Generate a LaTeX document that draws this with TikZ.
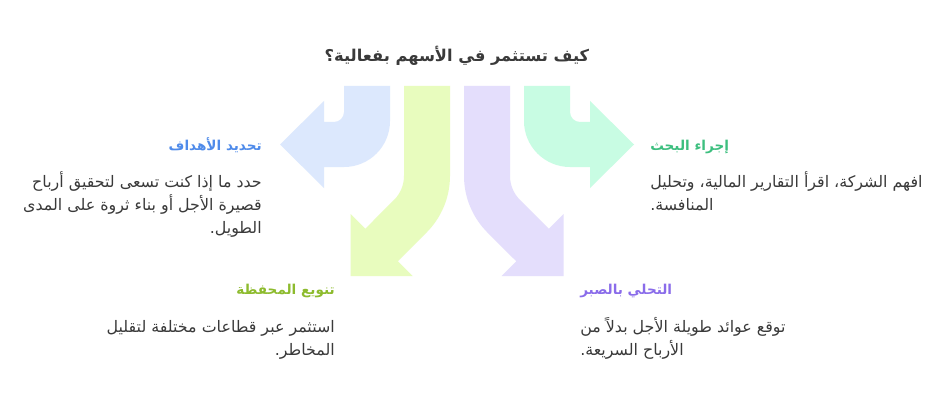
\documentclass[tikz,border=0pt]{standalone}
\usepackage{fontspec}
\newfontfamily\arabicfont[Script=Arabic]{DejaVu Sans}
\TeXXeTstate=1
\definecolor{arBlue}{HTML}{DCE8FD}
\definecolor{arLime}{HTML}{E8FCBE}
\definecolor{arPurple}{HTML}{E4DEFC}
\definecolor{arMint}{HTML}{C8FCE3}
\definecolor{hdBlue}{HTML}{4F8BEA}
\definecolor{hdLime}{HTML}{8DBB2E}
\definecolor{hdPurple}{HTML}{8A6CEA}
\definecolor{hdMint}{HTML}{3DBF7F}
\definecolor{txtGray}{HTML}{3A3A3A}
\begin{document}
\begin{tikzpicture}[x=0.75pt,y=-0.75pt,
  titletext/.style={inner sep=0pt,font=\arabicfont\bfseries\fontsize{12.2pt}{15pt}\selectfont,text=txtGray},
  headtext/.style={inner sep=0pt,font=\arabicfont\bfseries\fontsize{10.2pt}{12pt}\selectfont},
  bodytext/.style={inner sep=0pt,font=\arabicfont\fontsize{11.9pt}{14pt}\selectfont,text=txtGray}]
\useasboundingbox (0,0) rectangle (950,410);
\fill[white] (0,0) rectangle (950,410);

% arrows
\fill[arBlue] (344,86) -- (344,112) arc[start angle=0,end angle=90,radius=10] -- (324,122) -- (324,101) -- (280,144.5) -- (324,188) -- (324,167) -- (344,167) arc[start angle=90,end angle=0,radius=46] -- (390,86) -- cycle;
\fill[arMint] (570,86) -- (570,112) arc[start angle=180,end angle=90,radius=10] -- (590,122) -- (590,101) -- (634,144.5) -- (590,188) -- (590,167) -- (570,167) arc[start angle=90,end angle=180,radius=46] -- (524,86) -- cycle;
\fill[arLime] (404,86) -- (404,175.9) arc[start angle=0,end angle=45,radius=34] -- (365.25,228.75) -- (350.5,214) -- (350.5,276) -- (412.5,276) -- (397.75,261.25) -- (426.57,232.47) arc[start angle=45,end angle=0,radius=80] -- (450,86) -- cycle;
\fill[arPurple] (510,86) -- (510,175.9) arc[start angle=180,end angle=135,radius=34] -- (548.75,228.75) -- (563.5,214) -- (563.5,276) -- (501.5,276) -- (516.25,261.25) -- (487.43,232.47) arc[start angle=135,end angle=180,radius=80] -- (464,86) -- cycle;

% title
\node[titletext] (title) at (457,56) {\beginR كيف تستثمر في الأسهم بفعالية؟\endR};

% goals
\node[headtext,text=hdBlue,anchor=mid east] (goalsHead) at (262,148) {\beginR تحديد الأهداف\endR};
\node[bodytext,anchor=mid east] (goalsA) at (262,185) {\beginR حدد ما إذا كنت تسعى لتحقيق أرباح\endR};
\node[bodytext,anchor=mid east] (goalsB) at (262,208) {\beginR قصيرة الأجل أو بناء ثروة على المدى\endR};
\node[bodytext,anchor=mid east] (goalsC) at (262,231) {\beginR الطويل.\endR};

% research
\node[headtext,text=hdMint,anchor=mid west] (researchHead) at (650,148) {\beginR إجراء البحث\endR};
\node[bodytext,anchor=mid west] (researchA) at (650,185) {\beginR افهم الشركة، اقرأ التقارير المالية، وتحليل\endR};
\node[bodytext,anchor=mid west] (researchB) at (650,208) {\beginR المنافسة.\endR};

% diversify
\node[headtext,text=hdLime,anchor=mid east] (diversHead) at (335,292) {\beginR تنويع المحفظة\endR};
\node[bodytext,anchor=mid east] (diversA) at (335,330) {\beginR استثمر عبر قطاعات مختلفة لتقليل\endR};
\node[bodytext,anchor=mid east] (diversB) at (335,353) {\beginR المخاطر.\endR};

% patience
\node[headtext,text=hdPurple,anchor=mid west] (patienceHead) at (580,292) {\beginR التحلي بالصبر\endR};
\node[bodytext,anchor=mid west] (patienceA) at (580,330) {\beginR توقع عوائد طويلة الأجل بدلاً من\endR};
\node[bodytext,anchor=mid west] (patienceB) at (580,353) {\beginR الأرباح السريعة.\endR};
\end{tikzpicture}
\end{document}
